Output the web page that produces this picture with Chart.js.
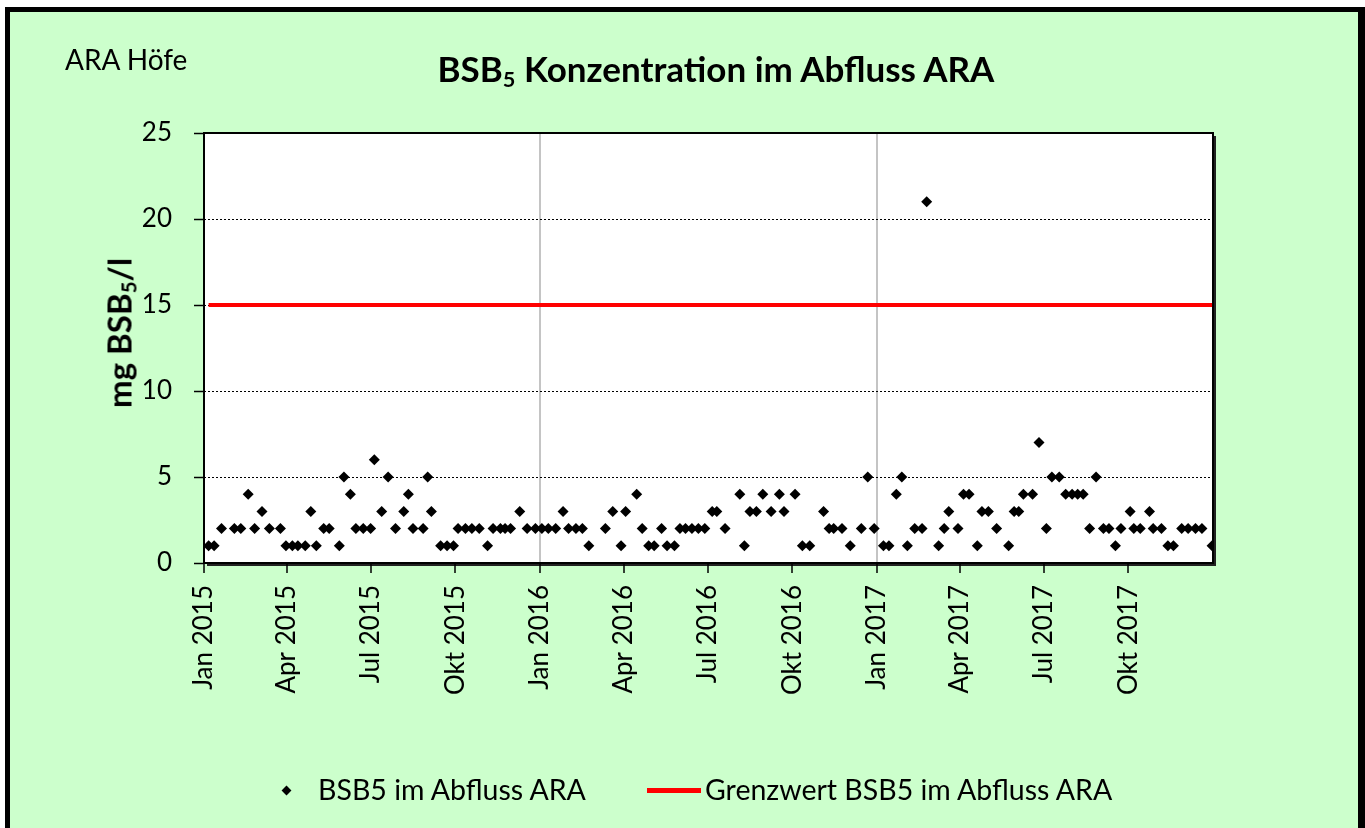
<!DOCTYPE html>
<html>
<head>
<meta charset="utf-8">
<script src="https://cdn.jsdelivr.net/npm/chart.js@4.4.1/dist/chart.umd.min.js"></script>
<style>
  html, body { margin: 0; padding: 0; background: #fff; width: 1365px; height: 828px; overflow: hidden; }
  body { position: relative; font-family: Lato, "Open Sans", sans-serif; color: #000; }
  #frame { position: absolute; left: 5px; top: 7px; width: 1360px; height: 840px; box-sizing: border-box;
           border: 5px solid #000; border-right-width: 7px; background: #ccffcc; }
  #chart { position: absolute; left: 0; top: 0; }
  .txt { position: absolute; white-space: nowrap; line-height: 1; }
  sub { font-size: 0.62em; vertical-align: -0.25em; line-height: 0; }
  #site { left: 65px; top: 45px; font-size: 28px; }
  #title { left: 716px; top: 51px; font-size: 35px; font-weight: bold; transform: translateX(-50%); }
  #ytitle { left: 119px; top: 333px; font-size: 33px; font-weight: bold; transform: translate(-50%, -50%) rotate(-90deg); }
  .leg { top: 775px; font-size: 28.5px; }
  #dot { position: absolute; left: 283px; top: 787px; width: 7px; height: 7px; background: #000; transform: rotate(45deg); }
  #redline { position: absolute; left: 647px; top: 788px; width: 54px; height: 5px; background: #ff0000; }
</style>
</head>
<body>
<div id="frame"></div>
<canvas id="chart" width="1365" height="828"></canvas>
<div class="txt" id="site">ARA Höfe</div>
<div class="txt" id="title">BSB<sub>5</sub> Konzentration im Abfluss ARA</div>
<div class="txt" id="ytitle">mg BSB<sub>5</sub>/l</div>
<div id="dot"></div>
<div class="txt leg" style="left:318px">BSB5 im Abfluss ARA</div>
<div id="redline"></div>
<div class="txt leg" style="left:705px">Grenzwert BSB5 im Abfluss ARA</div>
<script>
const sampleDates = [
  "2015-01-06", "2015-01-12", "2015-01-20", "2015-02-03", "2015-02-10", "2015-02-18", "2015-02-25", "2015-03-05", "2015-03-13", "2015-03-25",
  "2015-03-31", "2015-04-07", "2015-04-13", "2015-04-21", "2015-04-27", "2015-05-03", "2015-05-11", "2015-05-17", "2015-05-28", "2015-06-02",
  "2015-06-09", "2015-06-15", "2015-06-23", "2015-07-01", "2015-07-05", "2015-07-13", "2015-07-20", "2015-07-28", "2015-08-06", "2015-08-11",
  "2015-08-16", "2015-08-27", "2015-09-01", "2015-09-05", "2015-09-15", "2015-09-22", "2015-09-29", "2015-10-04", "2015-10-12", "2015-10-19",
  "2015-10-27", "2015-11-05", "2015-11-11", "2015-11-19", "2015-11-24", "2015-11-30", "2015-12-10", "2015-12-18", "2015-12-27", "2016-01-03",
  "2016-01-10", "2016-01-18", "2016-01-26", "2016-02-01", "2016-02-09", "2016-02-16", "2016-02-23", "2016-03-12", "2016-03-20", "2016-03-29",
  "2016-04-03", "2016-04-15", "2016-04-21", "2016-04-28", "2016-05-04", "2016-05-12", "2016-05-18", "2016-05-26", "2016-06-01", "2016-06-07",
  "2016-06-14", "2016-06-21", "2016-06-28", "2016-07-06", "2016-07-11", "2016-07-20", "2016-08-05", "2016-08-10", "2016-08-16", "2016-08-23",
  "2016-08-30", "2016-09-08", "2016-09-17", "2016-09-22", "2016-10-04", "2016-10-12", "2016-10-20", "2016-11-04", "2016-11-10", "2016-11-15",
  "2016-11-24", "2016-12-03", "2016-12-15", "2016-12-22", "2016-12-29", "2017-01-08", "2017-01-14", "2017-01-22", "2017-01-28", "2017-02-03",
  "2017-02-11", "2017-02-19", "2017-02-24", "2017-03-09", "2017-03-15", "2017-03-20", "2017-03-30", "2017-04-05", "2017-04-11", "2017-04-20",
  "2017-04-25", "2017-05-02", "2017-05-11", "2017-05-24", "2017-05-30", "2017-06-04", "2017-06-09", "2017-06-19", "2017-06-26", "2017-07-04",
  "2017-07-10", "2017-07-18", "2017-07-25", "2017-08-01", "2017-08-07", "2017-08-13", "2017-08-20", "2017-08-27", "2017-09-04", "2017-09-10",
  "2017-09-17", "2017-09-23", "2017-10-03", "2017-10-07", "2017-10-14", "2017-10-24", "2017-10-28", "2017-11-06", "2017-11-13", "2017-11-19",
  "2017-11-28", "2017-12-05", "2017-12-13", "2017-12-20", "2017-12-31",
];

// mg BSB5/l
const bsbValues = [
  1, 1, 2, 2, 2, 4, 2, 3, 2, 2,
  1, 1, 1, 1, 3, 1, 2, 2, 1, 5,
  4, 2, 2, 2, 6, 3, 5, 2, 3, 4,
  2, 2, 5, 3, 1, 1, 1, 2, 2, 2,
  2, 1, 2, 2, 2, 2, 3, 2, 2, 2,
  2, 2, 3, 2, 2, 2, 1, 2, 3, 1,
  3, 4, 2, 1, 1, 2, 1, 1, 2, 2,
  2, 2, 2, 3, 3, 2, 4, 1, 3, 3,
  4, 3, 4, 3, 4, 1, 1, 3, 2, 2,
  2, 1, 2, 5, 2, 1, 1, 4, 5, 1,
  2, 2, 21, 1, 2, 3, 2, 4, 4, 1,
  3, 3, 2, 1, 3, 3, 4, 4, 7, 2,
  5, 5, 4, 4, 4, 4, 2, 5, 2, 2,
  1, 2, 3, 2, 2, 3, 2, 2, 1, 1,
  2, 2, 2, 2, 1,
];

const grenzwert = 15;

const tickDates = [
  "2015-01-01", "2015-04-01", "2015-07-01", "2015-10-01",
  "2016-01-01", "2016-04-01", "2016-07-01", "2016-10-01",
  "2017-01-01", "2017-04-01", "2017-07-01", "2017-10-01",
];
const tickLabels = [
  "Jan 2015", "Apr 2015", "Jul 2015", "Okt 2015",
  "Jan 2016", "Apr 2016", "Jul 2016", "Okt 2016",
  "Jan 2017", "Apr 2017", "Jul 2017", "Okt 2017",
];
const yearLines = ["2016-01-01", "2017-01-01"];
const axisStart = "2015-01-01";
const axisEnd = "2018-01-01";

const yTicks = [0, 5, 10, 15, 20, 25];

function dayOf(str) {
  const [y, m, d] = str.split("-").map(Number);
  const [y0, m0, d0] = axisStart.split("-").map(Number);
  return Math.round((Date.UTC(y, m - 1, d) - Date.UTC(y0, m0 - 1, d0)) / 86400000);
}

const sampleDays = sampleDates.map(dayOf);
const tickDays = tickDates.map(dayOf);
const yearDays = yearLines.map(dayOf);
const fontFamily = "Lato, 'Open Sans', sans-serif";

const plotFrame = {
  id: "plotFrame",
  beforeDraw(chart) {
    const { ctx, chartArea: a } = chart;
    ctx.save();
    ctx.fillStyle = "#222";
    ctx.fillRect(a.left + 3, a.top + 3, a.right - a.left, a.bottom - a.top);
    ctx.fillStyle = "#fff";
    ctx.fillRect(a.left, a.top, a.right - a.left, a.bottom - a.top);
    ctx.restore();
  },
  beforeDatasetsDraw(chart) {
    const { ctx, chartArea: a } = chart;
    ctx.save();
    ctx.strokeStyle = "#000";
    ctx.lineWidth = 2;
    ctx.strokeRect(a.left, a.top, a.right - a.left, a.bottom - a.top);
    ctx.restore();
  },
};

new Chart(document.querySelector("#chart"), {
  type: "scatter",
  data: {
    datasets: [
      {
        label: "BSB5 im Abfluss ARA",
        data: sampleDays.map((day, i) => ({ x: day, y: bsbValues[i] })),
        pointStyle: "rectRot",
        pointRadius: 5.5,
        backgroundColor: "#000",
        borderColor: "#000",
        borderWidth: 0,
        showLine: false,
      },
      {
        label: "Grenzwert BSB5 im Abfluss ARA",
        data: sampleDays.map((day) => ({ x: day, y: grenzwert })),
        showLine: true,
        borderColor: "#ff0000",
        borderWidth: 4,
        pointRadius: 0,
      },
    ],
  },
  options: {
    responsive: false,
    animation: false,
    layout: {
      padding: { left: 124, top: 133, right: 152, bottom: 115 },
    },
    plugins: {
      legend: { display: false },
      tooltip: { enabled: false },
    },
    scales: {
      x: {
        type: "linear",
        min: dayOf(axisStart),
        max: dayOf(axisEnd),
        afterBuildTicks: (scale) => {
          scale.ticks = tickDays.map((value) => ({ value }));
        },
        afterFit: (scale) => {
          scale.height = 150;
        },
        ticks: {
          autoSkip: false,
          minRotation: 90,
          maxRotation: 90,
          padding: 12,
          color: "#000",
          font: { family: fontFamily, size: 26 },
          callback: (value) => tickLabels[tickDays.indexOf(value)],
        },
        grid: {
          color: (context) =>
            yearDays.includes(context.tick.value) ? "#c4c4c4" : "rgba(0, 0, 0, 0)",
          lineWidth: 2,
          tickColor: "#000",
          tickWidth: 1.5,
          tickLength: 10,
        },
        border: { display: false },
      },
      y: {
        min: 0,
        max: 25,
        afterBuildTicks: (scale) => {
          scale.ticks = yTicks.map((value) => ({ value }));
        },
        afterFit: (scale) => {
          scale.width = 80;
        },
        ticks: {
          padding: 22,
          color: "#000",
          font: { family: fontFamily, size: 26 },
        },
        grid: {
          color: (context) =>
            context.tick.value > 0 && context.tick.value < 25 ? "#000" : "rgba(0, 0, 0, 0)",
          lineWidth: 1,
          tickColor: "#000",
          tickWidth: 1.5,
          tickLength: 10,
        },
        border: { display: false, dash: [2, 2] },
      },
    },
  },
  plugins: [plotFrame],
});
</script>
</body>
</html>
